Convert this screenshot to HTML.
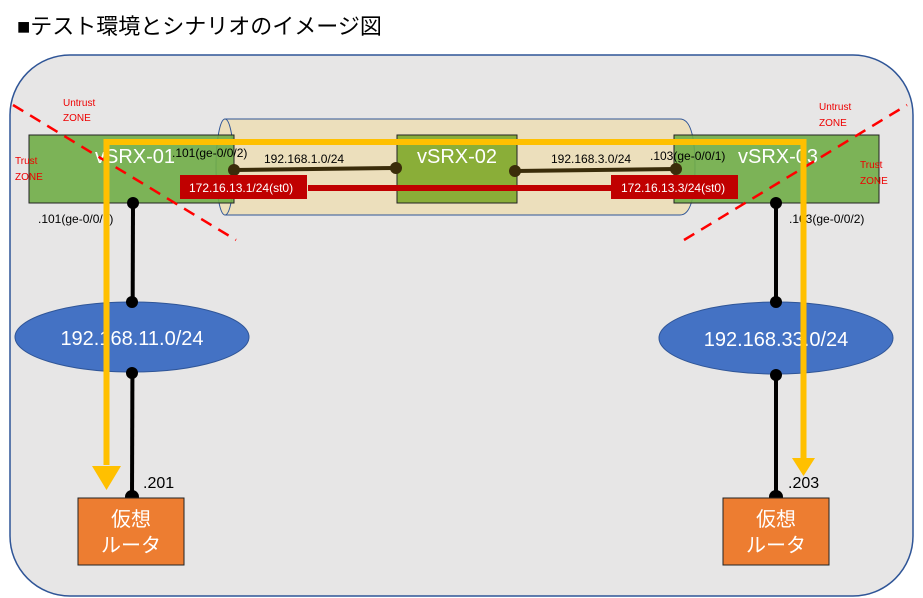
<!DOCTYPE html>
<html><head><meta charset="utf-8"><style>
html,body{margin:0;padding:0;background:#fff;width:923px;height:598px;overflow:hidden}
svg{display:block}
text{font-family:"Liberation Sans","Noto Sans CJK JP",sans-serif}
</style></head><body>
<svg width="923" height="598" viewBox="0 0 923 598" xmlns="http://www.w3.org/2000/svg">
<text x="17" y="34" font-size="22" fill="#000">■テスト環境とシナリオのイメージ図</text>
<rect x="10" y="55" width="903" height="541" rx="60" ry="60" fill="#e7e6e6" stroke="#2f5597" stroke-width="1.5"/>
<!-- cylinder -->
<path d="M225,119 L680,119 Q695,119 695,167 Q695,215 680,215 L225,215 Z" fill="#ecdfbc" stroke="#2f5597" stroke-width="1"/>
<ellipse cx="225" cy="167" rx="9" ry="48" fill="#ecdfbc" stroke="#2f5597" stroke-width="1"/>
<!-- boxes -->
<rect x="29" y="135" width="205" height="68" fill="#70ad47" fill-opacity="0.9" stroke="#222" stroke-width="1"/>
<rect x="397" y="135" width="120" height="68" fill="#8aae38" stroke="#222" stroke-width="1"/>
<rect x="674" y="135" width="205" height="68" fill="#70ad47" fill-opacity="0.9" stroke="#222" stroke-width="1"/>
<text x="95" y="163" font-size="20" fill="#fff">vSRX-01</text>
<text x="417" y="163" font-size="20" fill="#fff">vSRX-02</text>
<text x="738" y="163" font-size="20" fill="#fff">vSRX-03</text>
<!-- links -->
<line x1="234" y1="170" x2="396" y2="168" stroke="#3a2c0a" stroke-width="4"/>
<circle cx="234" cy="170" r="6" fill="#3a2c0a"/><circle cx="396" cy="168" r="6" fill="#3a2c0a"/>
<line x1="515" y1="171" x2="676" y2="169" stroke="#3a2c0a" stroke-width="4"/>
<circle cx="515" cy="171" r="6" fill="#3a2c0a"/><circle cx="676" cy="169" r="6" fill="#3a2c0a"/>
<line x1="308" y1="188" x2="612" y2="188" stroke="#c00000" stroke-width="6"/>
<rect x="180" y="175" width="127" height="24" fill="#c00000"/>
<text x="189" y="192" font-size="12" fill="#fff">172.16.13.1/24(st0)</text>
<rect x="611" y="175" width="127" height="24" fill="#c00000"/>
<text x="621" y="192" font-size="12" fill="#fff">172.16.13.3/24(st0)</text>
<text x="264" y="163" font-size="12" fill="#000">192.168.1.0/24</text>
<text x="551" y="163" font-size="12" fill="#000">192.168.3.0/24</text>
<text x="172" y="157" font-size="12" fill="#000">.101(ge-0/0/2)</text>
<text x="650" y="160" font-size="12" fill="#000">.103(ge-0/0/1)</text>
<text x="38" y="223" font-size="12" fill="#000">.101(ge-0/0/1)</text>
<text x="789" y="223" font-size="12" fill="#000">.103(ge-0/0/2)</text>
<!-- zone labels -->
<text x="63" y="106" font-size="10" fill="#e00">Untrust</text>
<text x="63" y="121" font-size="10" fill="#e00">ZONE</text>
<text x="15" y="164" font-size="10" fill="#e00">Trust</text>
<text x="15" y="180" font-size="10" fill="#e00">ZONE</text>
<text x="819" y="110" font-size="10" fill="#e00">Untrust</text>
<text x="819" y="126" font-size="10" fill="#e00">ZONE</text>
<text x="860" y="168" font-size="10" fill="#e00">Trust</text>
<text x="860" y="184" font-size="10" fill="#e00">ZONE</text>
<line x1="13" y1="105" x2="236" y2="240" stroke="#f00" stroke-width="2.5" stroke-dasharray="12,8"/>
<line x1="684" y1="240" x2="907" y2="105" stroke="#f00" stroke-width="2.5" stroke-dasharray="12,8"/>
<!-- vertical links -->
<line x1="133" y1="203" x2="132" y2="497" stroke="#000" stroke-width="4"/>
<line x1="776" y1="203" x2="776" y2="497" stroke="#000" stroke-width="4"/>
<ellipse cx="132" cy="337" rx="117" ry="35" fill="#4472c4" stroke="#2f5597" stroke-width="1"/>
<ellipse cx="776" cy="338" rx="117" ry="36" fill="#4472c4" stroke="#2f5597" stroke-width="1"/>
<text x="132" y="345" font-size="20" fill="#fff" text-anchor="middle">192.168.11.0/24</text>
<text x="776" y="346" font-size="20" fill="#fff" text-anchor="middle">192.168.33.0/24</text>
<g fill="#000">
<circle cx="133" cy="203" r="6"/><circle cx="132" cy="302" r="6"/><circle cx="132" cy="373" r="6"/><circle cx="132" cy="497" r="7"/>
<circle cx="776" cy="203" r="6"/><circle cx="776" cy="302" r="6"/><circle cx="776" cy="375" r="6"/><circle cx="776" cy="497" r="7"/>
</g>
<!-- routers -->
<rect x="78" y="498" width="106" height="67" fill="#ed7d31" stroke="#222" stroke-width="1"/>
<rect x="723" y="498" width="106" height="67" fill="#ed7d31" stroke="#222" stroke-width="1"/>
<text x="131" y="526" font-size="20" fill="#fff" text-anchor="middle">仮想</text>
<text x="131" y="552" font-size="20" fill="#fff" text-anchor="middle">ルータ</text>
<text x="776" y="526" font-size="20" fill="#fff" text-anchor="middle">仮想</text>
<text x="776" y="552" font-size="20" fill="#fff" text-anchor="middle">ルータ</text>
<text x="143" y="488" font-size="16" fill="#000">.201</text>
<text x="788" y="488" font-size="16" fill="#000">.203</text>
<!-- yellow path -->
<path d="M106.5,465 L106.5,142 L803.5,142 L803.5,458" fill="none" stroke="#ffc000" stroke-width="6"/>
<polygon points="92,466 121,466 106.5,490" fill="#ffc000"/>
<polygon points="792,458 815,458 803.5,476" fill="#ffc000"/>
</svg>
</body></html>
